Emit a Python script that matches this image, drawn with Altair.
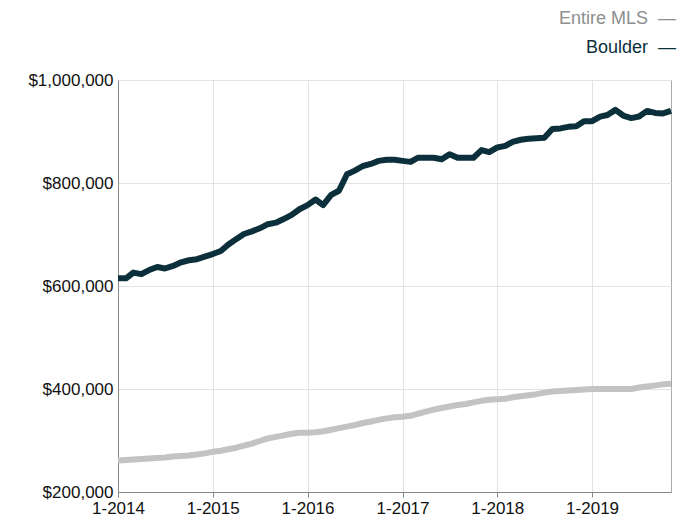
import altair as alt
import pandas as pd

months = [f"{y}-{m:02d}-01" for y in range(2014, 2020) for m in range(1, 13)][:71]

boulder = [
    615, 615, 626, 623, 631, 637, 634, 639, 646, 650, 652, 657,
    662, 668, 680, 691, 701, 706, 712, 720, 723, 730, 738, 749,
    757, 768, 757, 777, 785, 817, 824, 833, 837, 843, 845, 845,
    843, 841, 849, 849, 849, 846, 856, 849, 849, 849, 864, 860,
    869, 872, 880, 884, 886, 887, 888, 905, 906, 909, 910, 920,
    920, 929, 932, 942, 931, 926, 929, 940, 936, 935, 940,
]

entire_mls = [
    261, 262, 263, 264, 265, 266, 267, 269, 270, 271, 273, 275,
    278, 280, 283, 286, 290, 294, 299, 304, 307, 310, 313, 315,
    315, 316, 318, 321, 324, 327, 330, 334, 337, 340, 343, 345,
    346, 348, 352, 356, 360, 363, 366, 369, 371, 374, 377, 379,
    380, 381, 384, 386, 388, 390, 393, 395, 396, 397, 398, 399,
    400, 400, 400, 400, 400, 400, 403, 405, 407, 409, 410,
]

series = ["Entire MLS", "Boulder"]
colors = ["#c3c3c3", "#0b303b"]
legend_text_colors = ["#8e8e8e", "#0b303b"]

rows = []
for name, vals in zip(series, [entire_mls, boulder]):
    for d, v in zip(months, vals):
        rows.append({"date": d, "price": v * 1000, "series": name})
df = pd.DataFrame(rows)

FONT = "Liberation Sans"

x_enc = alt.X(
    "date:T",
    scale=alt.Scale(domain=["2014-01-01", "2019-11-01"]),
    axis=alt.Axis(
        format="%-m-%Y",
        tickCount={"interval": "year", "step": 1},
        title=None,
        labelFontSize=17,
        labelFont=FONT,
        labelColor="#111111",
        labelPadding=3,
        tickSize=5,
        tickColor="#888888",
        domainColor="#888888",
        gridColor="#e3e3e3",
        labelFlush=False,
    ),
)
y_enc = alt.Y(
    "price:Q",
    scale=alt.Scale(domain=[200000, 1000000], nice=False),
    axis=alt.Axis(
        values=[200000, 400000, 600000, 800000, 1000000],
        format="$,.0f",
        title=None,
        labelFontSize=17,
        labelFont=FONT,
        labelColor="#111111",
        labelPadding=5,
        ticks=False,
        domainColor="#888888",
        gridColor="#e3e3e3",
    ),
)

lines = alt.Chart(df).mark_line(strokeWidth=6, strokeJoin="round").encode(
    x=x_enc,
    y=y_enc,
    color=alt.Color("series:N", scale=alt.Scale(domain=series, range=colors), legend=None),
    detail="series:N",
)

legend_df = pd.DataFrame({"label": [s + "\u00a0\u00a0—" for s in series], "series": series,
                          "ypos": [-61, -32]})
legend = alt.Chart(legend_df).mark_text(
    align="right", baseline="middle", fontSize=18, font=FONT
).encode(
    x=alt.value(558),
    y=alt.Y("ypos:Q", scale=None),
    text="label:N",
    color=alt.Color("series:N", scale=alt.Scale(domain=series, range=legend_text_colors), legend=None),
)

chart = alt.layer(lines, legend).resolve_scale(color="independent").properties(
    width=553,
    height=412,
    autosize=alt.AutoSizeParams(type="none"),
    padding={"left": 110, "top": 72, "right": 10, "bottom": 25},
).configure_view(stroke="#aaaaaa", strokeWidth=1)

chart.save("out.html", embed_options={"renderer": "svg", "actions": False})
